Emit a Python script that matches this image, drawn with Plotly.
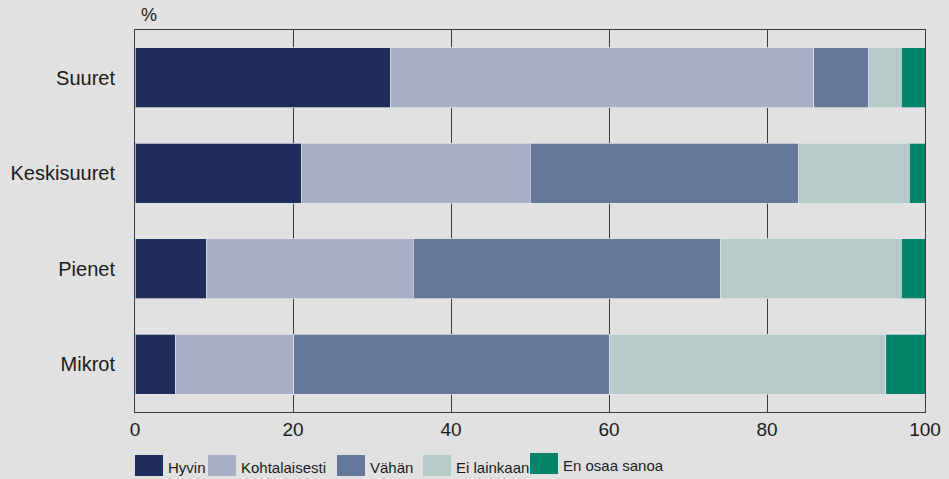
import plotly.graph_objects as go

categories = ["Suuret", "Keskisuuret", "Pienet", "Mikrot"]
series_names = ["Hyvin", "Kohtalaisesti", "Vähän", "Ei lainkaan", "En osaa sanoa"]
hyvin = [32.4, 21.1, 9.1, 5.1]
kohtalaisesti = [53.5, 28.9, 26.1, 15.0]
vahan = [7.0, 34.0, 38.9, 40.0]
ei_lainkaan = [4.1, 14.0, 22.9, 34.9]
en_osaa = [3.0, 2.0, 3.0, 5.0]
x_ticks = [0, 20, 40, 60, 80, 100]

series_values = [hyvin, kohtalaisesti, vahan, ei_lainkaan, en_osaa]
colors = ["#1e2d5a", "#a9aec4", "#66779c", "#b5cbc8", "#00856a"]

W, H = 949, 479
ML, MR, MT, MB = 135, 24, 30, 67
PW, PH = W - ML - MR, H - MT - MB

font = "Liberation Sans, Arial, sans-serif"

fig = go.Figure()
for name, vals, col in zip(series_names, series_values, colors):
    fig.add_trace(go.Bar(
        y=categories, x=vals, name=name, orientation="h",
        marker=dict(color=col, line=dict(color="rgba(225,228,235,0.7)", width=1)),
        showlegend=False, hoverinfo="skip",
    ))

def px_x(p):
    return (p - ML) / PW

def px_y(p):
    return (H - MB - p) / PH

# custom legend
legend_pos = [(135, 455), (208, 455), (337, 455), (423, 455), (530, 453)]
shapes = []
annotations = []
for (lx, ly), name, col in zip(legend_pos, series_names, colors):
    shapes.append(dict(type="rect", xref="paper", yref="paper",
                       x0=px_x(lx), x1=px_x(lx + 28), y0=px_y(ly + 21), y1=px_y(ly),
                       fillcolor=col, line=dict(width=0)))
    annotations.append(dict(text=name, xref="paper", yref="paper",
                            x=px_x(lx + 31), y=px_y(ly + 12), xanchor="left", yanchor="middle",
                            showarrow=False, font=dict(family=font, size=15, color="#1a1a1a")))

annotations.append(dict(text="%", xref="paper", yref="paper", x=px_x(139), y=px_y(15),
                        xanchor="left", yanchor="middle", showarrow=False,
                        font=dict(family=font, size=18, color="#1a1a1a")))

fig.update_layout(
    width=W, height=H,
    barmode="stack", bargap=0.37,
    paper_bgcolor="#e1e1e1", plot_bgcolor="#e1e1e1",
    margin=dict(l=ML, r=MR, t=MT, b=MB),
    font=dict(family=font, size=19, color="#1a1a1a"),
    shapes=shapes, annotations=annotations,
    xaxis=dict(range=[0, 100], tickvals=x_ticks, showgrid=True, gridcolor="#3a3a3a",
               gridwidth=1, showline=True, linecolor="#3a3a3a", linewidth=1, mirror=True,
               zeroline=False, ticks="", ticklabelstandoff=0, automargin=False,
               tickfont=dict(family=font, size=19)),
    yaxis=dict(autorange="reversed", showline=True, linecolor="#3a3a3a", linewidth=1,
               mirror=True, ticks="", ticklabelstandoff=15, showgrid=False, automargin=False,
               tickfont=dict(family=font, size=20)),
)

fig.write_html("out.html", config={"displayModeBar": False},
               post_script="document.body.style.margin='0';document.body.style.background='#e1e1e1';")
